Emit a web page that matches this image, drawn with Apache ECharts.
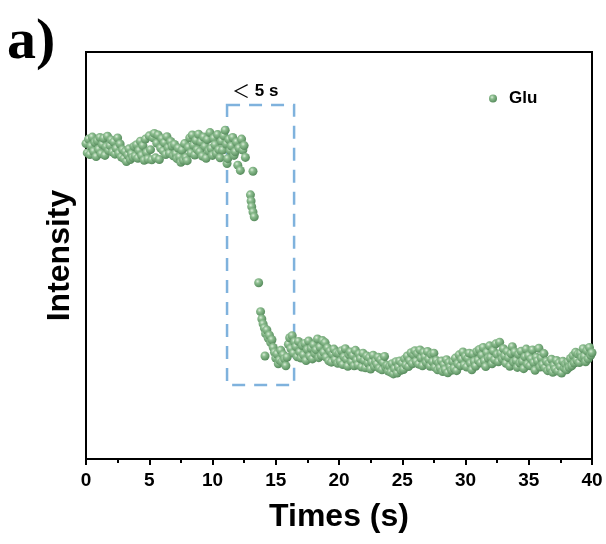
<!DOCTYPE html>
<html>
<head>
<meta charset="utf-8">
<script src="https://cdn.jsdelivr.net/npm/echarts@6/dist/echarts.min.js"></script>
<style>html,body{margin:0;padding:0;background:#fff;}#c{width:606px;height:544px;}</style>
</head>
<body>
<div id="c"></div>
<script>
// Tick labels on the x axis
var xTicks = [0, 5, 10, 15, 20, 25, 30, 35, 40];
var seriesName = 'Glu';
var boxX = [11.15, 16.45];
var boxY = [18.2, 87.0];

// [time (s), intensity (arb. units)]
var upperPlateau = [
[0.0,77.5],[0.1,75.2],[0.2,78.6],[0.3,74.8],[0.4,76.9],[0.5,79.1],[0.6,75.6],[0.7,77.8],[0.8,74.3],[0.9,78.2],
[1.0,76.1],[1.1,79.0],[1.2,75.0],[1.3,77.3],[1.4,78.8],[1.5,74.6],[1.6,76.7],[1.7,79.3],[1.8,75.8],[1.9,77.0],
[2.0,78.4],[2.1,75.4],[2.2,77.9],[2.3,74.9],[2.4,76.3],[2.5,78.9],[2.6,75.1],[2.7,77.4],[2.8,74.2],[2.9,76.0],
[3.0,73.8],[3.1,75.5],[3.2,73.1],[3.3,74.7],[3.4,76.2],[3.5,73.6],[3.6,75.0],[3.7,74.1],[3.8,76.8],[3.9,74.4],
[4.0,77.2],[4.1,73.9],[4.2,75.8],[4.3,78.1],[4.4,74.6],[4.5,77.0],[4.6,73.4],[4.7,78.6],[4.8,75.3],[4.9,73.7],
[5.0,79.4],[5.1,76.0],[5.2,73.5],[5.3,78.9],[5.4,80.0],[5.5,74.0],[5.6,77.6],[5.7,79.6],[5.8,73.6],[5.9,76.4],
[6.0,78.7],[6.1,75.7],[6.2,77.7],[6.3,74.8],[6.4,79.2],[6.5,76.5],[6.6,75.1],[6.7,78.0],[6.8,76.9],[6.9,74.5],
[7.0,77.3],[7.1,75.0],[7.2,73.8],[7.3,76.4],[7.4,74.2],[7.5,72.9],[7.6,75.9],[7.7,73.4],[7.8,77.5],[7.9,74.1],
[8.0,73.3],[8.1,76.6],[8.2,78.9],[8.3,75.2],[8.4,79.6],[8.5,77.1],[8.6,74.7],[8.7,78.3],[8.8,76.0],[8.9,79.8],
[9.0,75.5],[9.1,77.9],[9.2,74.4],[9.3,79.1],[9.4,76.8],[9.5,73.9],[9.6,78.5],[9.7,75.7],[9.8,80.2],[9.9,76.3],
[10.0,74.6],[10.1,78.8],[10.2,77.2],[10.3,75.1],[10.4,79.7],[10.5,76.0],[10.6,74.0],[10.7,78.1],[10.8,75.9],[10.9,79.4]
];

var transition = [
[11.0,80.8],[11.1,77.4],[11.15,72.6],[11.2,73.8],[11.3,78.5],[11.4,75.8],[11.5,76.9],[11.6,79.0],[11.7,74.6],[11.8,75.5],
[11.9,77.9],[12.0,72.2],[12.1,76.4],[12.2,70.9],[12.3,78.6],[12.4,75.9],[12.5,77.0],[12.6,74.1],[13.2,70.7],
[13.0,64.9],[13.05,63.4],[13.1,62.0],[13.2,60.7],[13.3,59.5],
[13.65,43.3],[13.8,36.2],[13.9,34.4],[14.0,33.2],[14.1,32.2],[14.2,30.8],[14.3,31.7],[14.4,29.7],[14.5,30.4],[14.6,28.6],
[14.7,29.3],[14.8,27.4],[14.9,26.2],[14.15,25.3],[15.0,24.8],[15.1,25.8],[15.2,23.4],[15.3,24.3],[15.4,26.7],[15.5,23.9],
[15.6,25.6],[15.7,24.6],[15.8,22.9],[15.9,25.0],[16.0,28.2],[16.1,29.8],[16.2,27.1],[16.3,30.3],[16.4,26.0],[16.5,28.8]
];

var lowerPlateau = [
[16.6,27.6],[16.7,25.1],[16.8,28.9],[16.9,26.3],
[17.0,24.8],[17.1,27.9],[17.2,25.6],[17.3,28.4],[17.4,24.2],[17.5,26.9],[17.6,29.0],[17.7,25.3],[17.8,27.2],[17.9,24.6],
[18.0,28.1],[18.1,25.9],[18.2,26.8],[18.3,29.5],[18.4,24.9],[18.5,27.5],[18.6,25.4],[18.7,29.1],[18.8,26.2],[18.9,28.6],
[19.0,25.0],[19.1,27.3],[19.2,24.1],[19.3,26.5],[19.4,23.8],[19.5,25.7],[19.6,27.0],[19.7,24.4],[19.8,26.1],[19.9,23.5],
[20.0,25.9],[20.1,24.0],[20.2,26.6],[20.3,23.2],[20.4,25.1],[20.5,27.1],[20.6,24.5],[20.7,22.8],[20.8,25.6],[20.9,26.3],
[21.0,23.9],[21.1,25.4],[21.2,22.9],[21.3,26.7],[21.4,24.3],[21.5,23.1],[21.6,25.8],[21.7,24.7],[21.8,22.6],[21.9,26.0],
[22.0,24.2],[22.1,22.4],[22.2,25.3],[22.3,23.6],[22.4,24.9],[22.5,22.1],[22.6,23.8],[22.7,25.5],[22.8,22.7],[22.9,24.0],
[23.0,23.3],[23.1,25.0],[23.2,22.3],[23.3,24.4],[23.4,21.9],[23.5,23.7],[23.6,25.2],[23.7,22.5],[23.8,23.0],[23.9,21.6],
[24.0,22.8],[24.1,21.3],[24.2,23.4],[24.3,20.9],[24.4,22.2],[24.5,23.9],[24.6,21.1],[24.7,22.6],[24.8,24.1],[24.9,21.8],
[25.0,23.5],[25.1,22.0],[25.2,24.6],[25.3,23.1],[25.4,25.3],[25.5,22.7],[25.6,24.2],[25.7,26.1],[25.8,23.4],[25.9,25.6],
[26.0,26.6],[26.1,24.0],[26.2,25.9],[26.3,23.3],[26.4,26.8],[26.5,24.8],[26.6,22.9],[26.7,26.2],[26.8,25.1],[26.9,23.7],
[27.0,26.4],[27.1,24.5],[27.2,22.8],[27.3,25.7],[27.4,23.9],[27.5,26.0],[27.6,22.5],[27.7,24.2],[27.8,21.9],[27.9,23.6],
[28.0,22.4],[28.1,24.1],[28.2,21.5],[28.3,23.2],[28.4,22.0],[28.5,24.4],[28.6,21.2],[28.7,23.7],[28.8,22.6],[28.9,21.8],
[29.0,23.9],[29.1,22.3],[29.2,24.8],[29.3,21.7],[29.4,23.4],[29.5,25.6],[29.6,22.9],[29.7,24.5],[29.8,26.3],[29.9,23.1],
[30.0,25.2],[30.1,22.6],[30.2,24.7],[30.3,26.0],[30.4,23.5],[30.5,21.9],[30.6,25.8],[30.7,24.0],[30.8,22.8],[30.9,26.4],
[31.0,24.3],[31.1,26.9],[31.2,23.6],[31.3,25.5],[31.4,27.4],[31.5,24.1],[31.6,22.7],[31.7,26.2],[31.8,24.8],[31.9,27.8],
[32.0,25.0],[32.1,23.4],[32.2,26.6],[32.3,24.4],[32.4,28.3],[32.5,25.7],[32.6,23.9],[32.7,28.7],[32.8,26.0],[32.9,24.6],
[33.0,27.1],[33.1,25.3],[33.2,23.5],[33.3,26.4],[33.4,24.9],[33.5,22.8],[33.6,25.9],[33.7,27.6],[33.8,23.8],[33.9,26.3],
[34.0,24.2],[34.1,22.5],[34.2,25.7],[34.3,23.6],[34.4,26.5],[34.5,24.0],[34.6,22.2],[34.7,25.1],[34.8,27.0],[34.9,23.3],
[35.0,25.4],[35.1,22.9],[35.2,24.6],[35.3,26.8],[35.4,23.7],[35.5,21.8],[35.6,25.0],[35.7,24.1],[35.8,27.2],[35.9,22.6],
[36.0,24.8],[36.1,23.2],[36.2,25.9],[36.3,22.4],[36.4,24.0],[36.5,21.7],[36.6,23.5],[36.7,22.2],[36.8,24.5],[36.9,21.3],
[37.0,23.0],[37.1,22.1],[37.2,24.2],[37.3,21.6],[37.4,23.6],[37.5,22.7],[37.6,21.1],[37.7,24.0],[37.8,22.4],[37.9,23.3],
[38.0,21.9],[38.1,23.8],[38.2,22.5],[38.3,24.7],[38.4,22.9],[38.5,25.4],[38.6,23.6],[38.7,26.2],[38.8,24.3],[38.9,25.8],
[39.0,23.7],[39.1,26.0],[39.2,24.9],[39.3,27.1],[39.4,25.2],[39.5,23.9],[39.6,26.6],[39.7,24.6],[39.8,27.4],[39.9,25.5],
[40.0,26.1]
];

var allPoints = upperPlateau.concat(transition, lowerPlateau);

var FONT = 'Arial, "Liberation Sans", sans-serif';
var chart = echarts.init(document.getElementById('c'), null, {renderer: 'canvas'});
var ballColor = {
  type: 'radial', x: 0.38, y: 0.34, r: 0.66,
  colorStops: [
    {offset: 0, color: '#dcedda'},
    {offset: 0.35, color: '#8cbd8f'},
    {offset: 1, color: '#578c5d'}
  ]
};
chart.setOption({
  animation: false,
  backgroundColor: '#fff',
  grid: {left: 86, right: 14, top: 52, bottom: 85, show: true, borderColor: '#000', borderWidth: 2, backgroundColor: 'transparent'},
  legend: {
    data: [seriesName], left: 484, top: 85, icon: 'circle', itemWidth: 8, itemHeight: 8,
    textStyle: {fontFamily: FONT, fontWeight: 'bold', fontSize: 17, color: '#000', padding: [0, 0, 0, 7]}
  },
  xAxis: {
    type: 'value', min: xTicks[0], max: xTicks[xTicks.length - 1], interval: 5,
    name: 'Times (s)', nameLocation: 'middle', nameGap: 42,
    nameTextStyle: {fontFamily: FONT, fontWeight: 'bold', fontSize: 32, color: '#000'},
    axisLine: {lineStyle: {color: '#000', width: 2}},
    axisTick: {show: true, inside: false, length: 6, lineStyle: {color: '#000', width: 2}},
    minorTick: {show: true, splitNumber: 2, length: 4, lineStyle: {color: '#000', width: 2}},
    axisLabel: {fontFamily: FONT, fontWeight: 'bold', fontSize: 19, color: '#000', margin: 12},
    splitLine: {show: false}
  },
  yAxis: {
    type: 'value', min: 0, max: 100,
    name: 'Intensity', nameLocation: 'middle', nameGap: 10, nameRotate: 90,
    nameTextStyle: {fontFamily: FONT, fontWeight: 'bold', fontSize: 32, color: '#000'},
    axisLine: {show: true, lineStyle: {color: '#000', width: 2}},
    axisTick: {show: false}, axisLabel: {show: false}, splitLine: {show: false}
  },
  graphic: [
    {type: 'text', left: 7, top: 14, style: {text: 'a)', font: 'bold 58px "Liberation Serif", "Times New Roman", serif', fill: '#000'}},
    {type: 'text', left: 232, top: 82, style: {
      text: '{a|＜}{b| 5 s}',
      rich: {
        a: {fontFamily: '"Noto Sans CJK SC", sans-serif', fontSize: 18, fill: '#000', fontWeight: 'normal'},
        b: {fontFamily: FONT, fontSize: 17, fontWeight: 'bold', fill: '#000'}
      }
    }}
  ],
  series: [{
    name: seriesName, type: 'scatter', data: allPoints, symbol: 'circle', symbolSize: 9,
    itemStyle: {color: ballColor, opacity: 1},
    clip: false,
    markArea: {
      silent: true,
      itemStyle: {color: 'rgba(0,0,0,0)', borderColor: '#7fb2dd', borderWidth: 2.5, borderType: [13, 9]},
      data: [[{coord: [boxX[0], boxY[1]]}, {coord: [boxX[1], boxY[0]]}]]
    }
  }]
});
</script>
</body>
</html>
